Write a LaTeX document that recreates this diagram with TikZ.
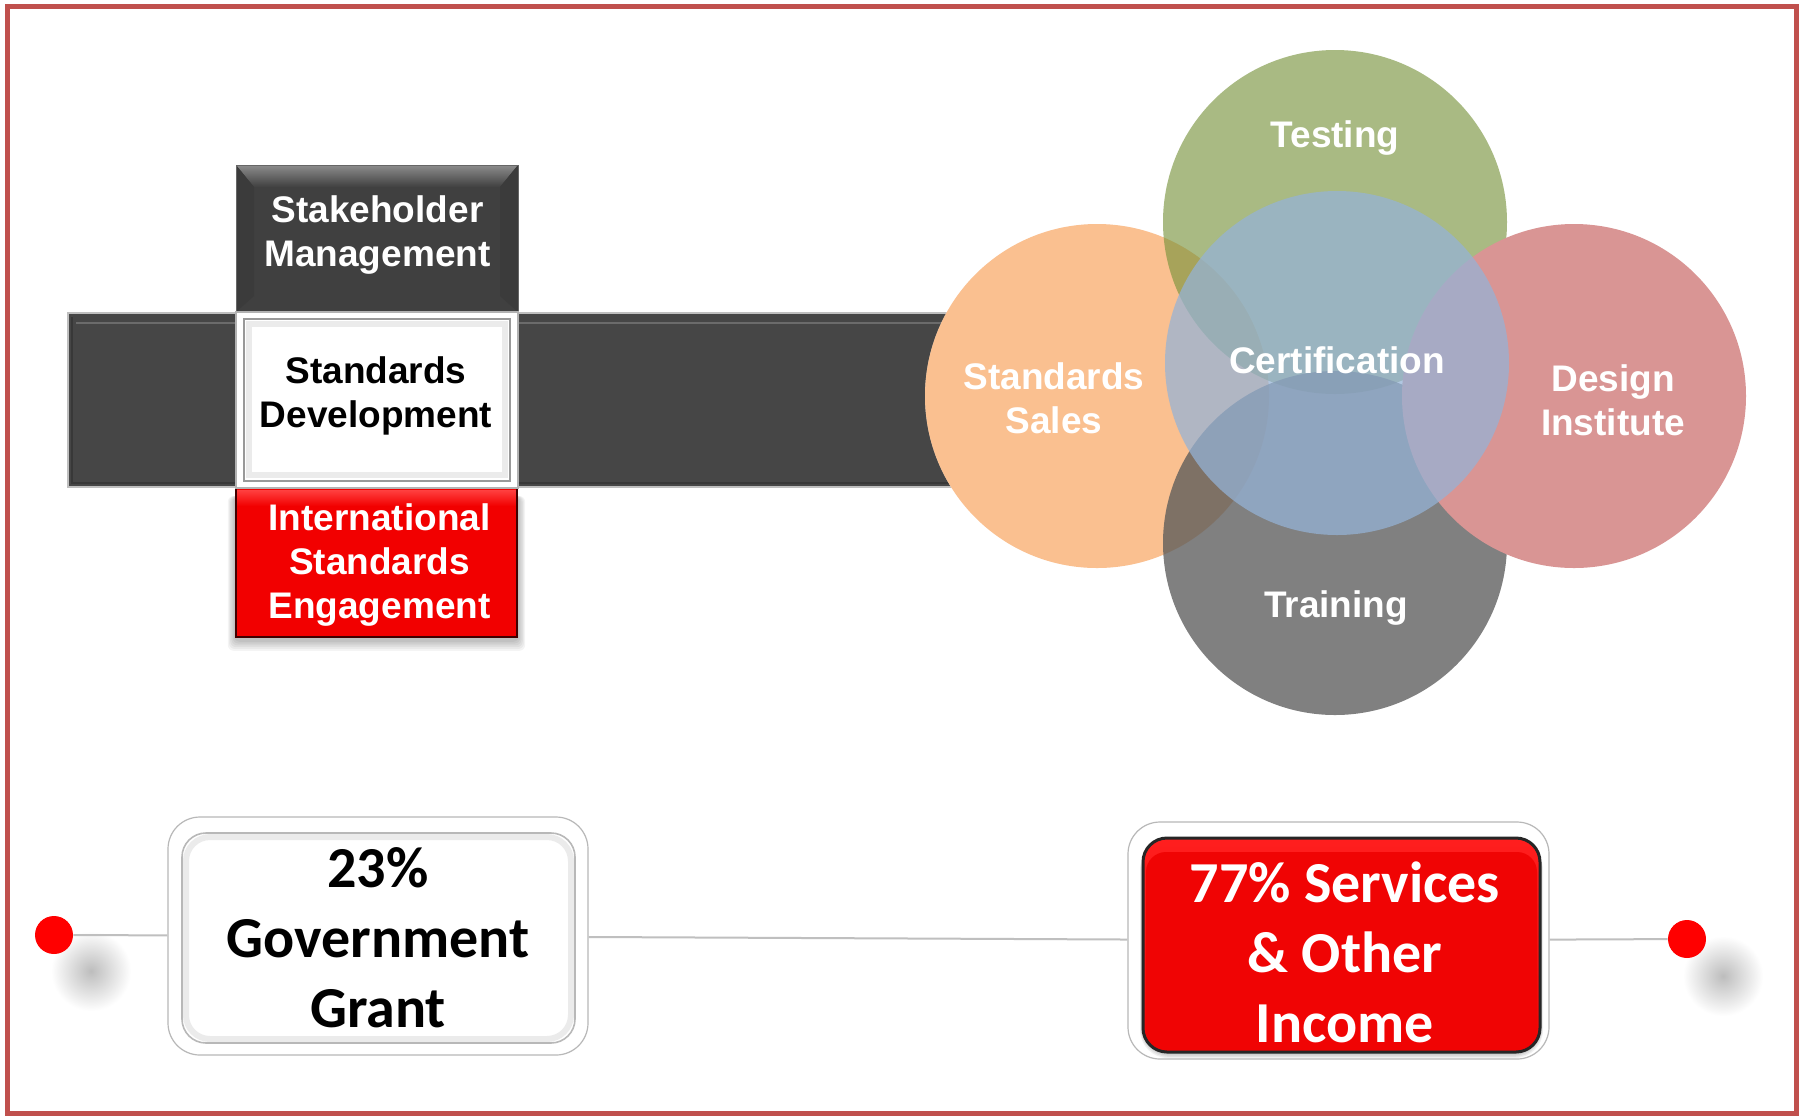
\documentclass[tikz,border=0pt]{standalone}
\usepackage{fontspec}
\setmainfont{Liberation Sans}
\newfontfamily\calibfont{Carlito}
\definecolor{framered}{HTML}{C0504D}
\definecolor{boxdark}{HTML}{404040}
\definecolor{bardark}{HTML}{464646}
\definecolor{salesor}{HTML}{F79646}
\definecolor{testgr}{HTML}{77933C}
\definecolor{designpk}{RGB}{217,149,148}
\definecolor{traingr}{HTML}{595959}
\definecolor{certbl}{HTML}{95B3D7}
\definecolor{linegr}{HTML}{BFBFBF}
\definecolor{isred}{HTML}{F20000}
\definecolor{redtop}{HTML}{FF4040}
\definecolor{svcred}{HTML}{F00404}
\tikzset{
  wlabel/.style={text=white, font=\bfseries\fontsize{18.5}{22}\selectfont, align=center, inner sep=0pt},
  blabel/.style={wlabel, text=black},
  calabel/.style={font=\calibfont\bfseries\fontsize{29}{35}\selectfont, align=center, inner sep=0pt},
  bubble/.style={circle, minimum size=172pt, inner sep=0pt, draw=none},
  reddot/.style={circle, fill=red, minimum size=19pt, inner sep=0pt},
  outerbox/.style={rectangle, rounded corners=16pt, draw=black!28, line width=0.6pt, fill=white, inner sep=0pt},
  dotshadow/.style={inner color=black!26, outer color=white},
  connector/.style={draw=linegr, line width=1pt},
}
\begin{document}
\begin{tikzpicture}[x=0.5pt,y=-0.5pt]
\useasboundingbox (0,0) rectangle (1800,1116);
\fill[white] (0,0) rectangle (1800,1116);

% ---- horizontal dark bar behind the stack ----
\fill[bardark] (68,313) rectangle (960,487);
\draw[black!25, line width=0.6pt] (68,313) rectangle (960,487);
\draw[black!58, line width=1.2pt] (76,323) -- (960,323);
\draw[black!78, line width=1.2pt] (72,317) -- (72,483) -- (960,483);

% ---- Stakeholder Management ----
\fill[boxdark] (236,165) rectangle (518,312);
\shade[top color=black!45, bottom color=boxdark] (236,165) -- (518,165) -- (500,187) -- (254,187) -- cycle;
\fill[black!77] (236,165) -- (254,187) -- (254,296) -- (236,312) -- cycle;
\fill[black!77] (518,165) -- (500,187) -- (500,296) -- (518,312) -- cycle;
\draw[black!60, line width=0.5pt] (236,165) rectangle (518,312);

% ---- Standards Development ----
\fill[white] (236,312) rectangle (518,488);
\draw[black!30, line width=0.8pt] (236,312) rectangle (518,488);
\draw[black!8, line width=3pt] (249,324) rectangle (505,475);
\draw[black!40, line width=0.8pt] (244,319) rectangle (510,481);

% ---- International Standards Engagement ----
\foreach \i in {1,...,6}
  \fill[black, opacity=0.045, rounded corners=3pt] (235-\i*1.2,496) rectangle (518+\i*1.2,640+\i*1.8);
\fill[isred] (235,489) rectangle (518,638);
\shade[top color=redtop, bottom color=isred] (237,490) rectangle (516,506);
\draw[black!75!red, line width=1.2pt] (236,489) -- (236,637) -- (517,637) -- (517,489);

\node[wlabel] (sm) at (377.5,235.4) {Stakeholder\\Management};
\node[blabel] (sd) at (376,396.4) {Standards\\Development};
\node[wlabel] (ise) at (379.5,564.7) {International\\Standards\\Engagement};

% ---- overlapping service circles ----
\node[bubble, fill=white] (base) at (1097,396) {};
\node[bubble, fill=salesor, fill opacity=0.6] (csales) at (1097,396) {};
\node[bubble, fill=testgr, fill opacity=0.63] (ctest) at (1335,222) {};
\node[bubble, fill=traingr, fill opacity=0.765] (ctrain) at (1335,543) {};
\node[bubble, fill=designpk] (cdesign) at (1574,396) {};
\node[bubble, fill=certbl, fill opacity=0.73] (ccert) at (1337,363) {};

\node[wlabel] (tst) at (1335,137.8) {Testing};
\node[wlabel] (cert) at (1337,359.8) {Certification};
\node[wlabel] (ss) at (1054,398) {Standards\\Sales};
\node[wlabel] (di) at (1613,400) {Design\\Institute};
\node[wlabel] (trn) at (1336,607.8) {Training};

% ---- funding line ----
\shade[dotshadow] (91,971) circle (20pt);
\shade[dotshadow] (1723,976) circle (20pt);

\node[reddot] (ldot) at (54,935) {};
\node[reddot] (rdot) at (1687,939) {};
\node[outerbox, minimum width=210pt, minimum height=119pt] (gov) at (378,936) {};
\node[outerbox, minimum width=210.5pt, minimum height=118.5pt] (svc) at (1338.5,940.5) {};
\draw[connector] (ldot) -- (gov);
\draw[connector] (gov) -- (svc);
\draw[connector] (svc) -- (rdot);

% inner panel of the grant box
\draw[black!8, line width=3pt, rounded corners=12pt] (186,837) rectangle (571,1039);
\draw[black!28, line width=0.8pt, rounded corners=12pt] (182,833) rectangle (575,1043);

% inner red panel of the services box
\foreach \i in {1,...,5}
  \fill[black, opacity=0.06, rounded corners=14pt] (1143-\i*0.6,842) rectangle (1540+\i*0.6,1052+\i*1.2);
\shade[top color=red!88!white, bottom color=svcred, rounded corners=12pt] (1143,838) rectangle (1540,1052);
\fill[svcred, rounded corners=10pt] (1146,852) rectangle (1537,1049);
\draw[black!85, line width=1.5pt, rounded corners=12pt] (1143,838) rectangle (1540,1052);

\node[calabel] (govt) at (378,937.5) {23\%\\Government\\Grant};
\node[calabel, text=white] (svct) at (1345,952.5) {77\% Services\\\& Other\\Income};

% ---- outer frame ----
\draw[framered, line width=2.5pt] (7.5,6.5) rectangle (1796,1113);
\end{tikzpicture}
\end{document}
